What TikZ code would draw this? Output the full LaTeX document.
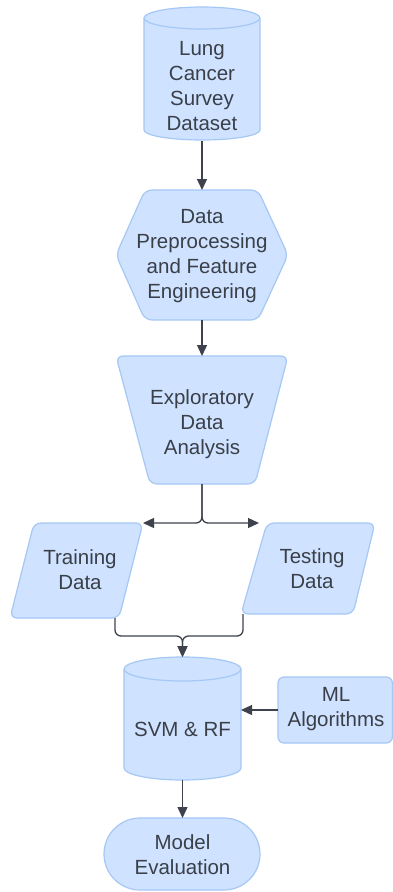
\documentclass[tikz,border=0pt]{standalone}
\usepackage{fontspec}
\setmainfont{Liberation Sans}
\usetikzlibrary{arrows.meta,calc}
\definecolor{fillc}{RGB}{207,226,255}
\definecolor{edgec}{RGB}{165,200,245}
\definecolor{txtc}{RGB}{58,63,72}
\definecolor{linec}{RGB}{62,66,76}
\tikzset{
  shapebox/.style={fill=fillc, draw=edgec, line width=1.2pt, line join=round},
  anchorbox/.style={draw=none, inner sep=0pt, outer sep=0pt},
  txt/.style={text=txtc, align=center, inner sep=0pt, font=\fontsize{20.5}{25}\selectfont},
  conn/.style={draw=linec, line width=1.3pt},
  arr/.style={conn, -{Triangle[length=11pt,width=10pt]}},
}
\begin{document}
\begin{tikzpicture}[x=1pt,y=1pt]
\useasboundingbox (0,0) rectangle (393,-892);

% Lung Cancer Survey Dataset (cylinder)
\path[shapebox] (144,-18) -- (144,-130) arc[start angle=180,end angle=360,x radius=58,y radius=10]
  -- (260,-18) arc[start angle=0,end angle=180,x radius=58,y radius=11] -- cycle;
\draw[edgec, line width=1.2pt] (144,-18) arc[start angle=180,end angle=360,x radius=58,y radius=11];
\node[anchorbox, minimum width=116pt, minimum height=134pt] (ds) at (202,-74) {};
\node[txt] at (202,-86) {Lung\\Cancer\\Survey\\Dataset};

% Data Preprocessing (hexagon)
\path[shapebox, rounded corners=7pt] (116,-255) -- (145,-190) -- (258,-190) -- (288,-255) -- (258,-320) -- (145,-320) -- cycle;
\node[anchorbox, minimum width=172pt, minimum height=130pt] (prep) at (202,-255) {};
\node[txt] at (202,-256.5) {Data\\Preprocessing\\and Feature\\Engineering};

% Exploratory Data Analysis (trapezoid)
\path[shapebox, rounded corners=7pt] (116,-356) -- (288,-356) -- (255,-484) -- (150,-484) -- cycle;
\node[anchorbox, minimum width=172pt, minimum height=128pt] (eda) at (202,-420) {};
\node[txt] at (202,-424) {Exploratory\\Data\\Analysis};

% Training Data (parallelogram)
\path[shapebox, rounded corners=7pt] (34,-523) -- (143,-523) -- (119,-618) -- (10,-618) -- cycle;
\node[txt] (train) at (80,-569.5) {Training\\Data};
\coordinate (trainin) at (143,-523);
\coordinate (trainout) at (115,-618);

% Testing Data (parallelogram)
\path[shapebox, rounded corners=7pt] (267,-523) -- (375,-523) -- (353,-614) -- (241,-614) -- cycle;
\node[txt] (test) at (312,-568.5) {Testing\\Data};
\coordinate (testin) at (259,-523);
\coordinate (testout) at (243,-614);

% SVM & RF (cylinder)
\path[shapebox] (124,-669) -- (124,-768) arc[start angle=180,end angle=360,x radius=58.5,y radius=12]
  -- (241,-669) arc[start angle=0,end angle=180,x radius=58.5,y radius=12] -- cycle;
\draw[edgec, line width=1.2pt] (124,-669) arc[start angle=180,end angle=360,x radius=58.5,y radius=12];
\node[anchorbox, minimum width=117pt, minimum height=123pt] (svm) at (182.5,-718.5) {};
\node[txt] at (182.5,-729) {SVM \& RF};

% ML Algorithms (rounded rectangle)
\path[shapebox, rounded corners=6pt] (278,-677) rectangle (392.4,-743);
\node[anchorbox, minimum width=114pt, minimum height=66pt] (ml) at (335.2,-710) {};
\node[txt] at (336,-709) {ML\\Algorithms};

% Model Evaluation (stadium)
\path[shapebox, rounded corners=36pt] (104,-818) rectangle (260,-890);
\node[anchorbox, minimum width=156pt, minimum height=72pt] (model) at (182.5,-854) {};
\node[txt] at (182.5,-855) {Model\\Evaluation};

% connectors
\draw[arr] (ds.south) -- (prep.north);
\draw[arr] (prep.south) -- (eda.north);
\draw[arr, rounded corners=6pt] (eda.south) |- (trainin);
\draw[arr, rounded corners=6pt] (eda.south) |- (testin);
\draw[arr, rounded corners=6pt] (trainout) |- ($(svm.north)+(0,-636+657)$) -- (svm.north);
\draw[arr, rounded corners=6pt] (testout) |- ($(svm.north)+(0,-636+657)$) -- (svm.north);
\draw[arr] (ml.west) -- (ml.west -| svm.east);
\draw[arr] (svm.south) -- (model.north);
\end{tikzpicture}
\end{document}
